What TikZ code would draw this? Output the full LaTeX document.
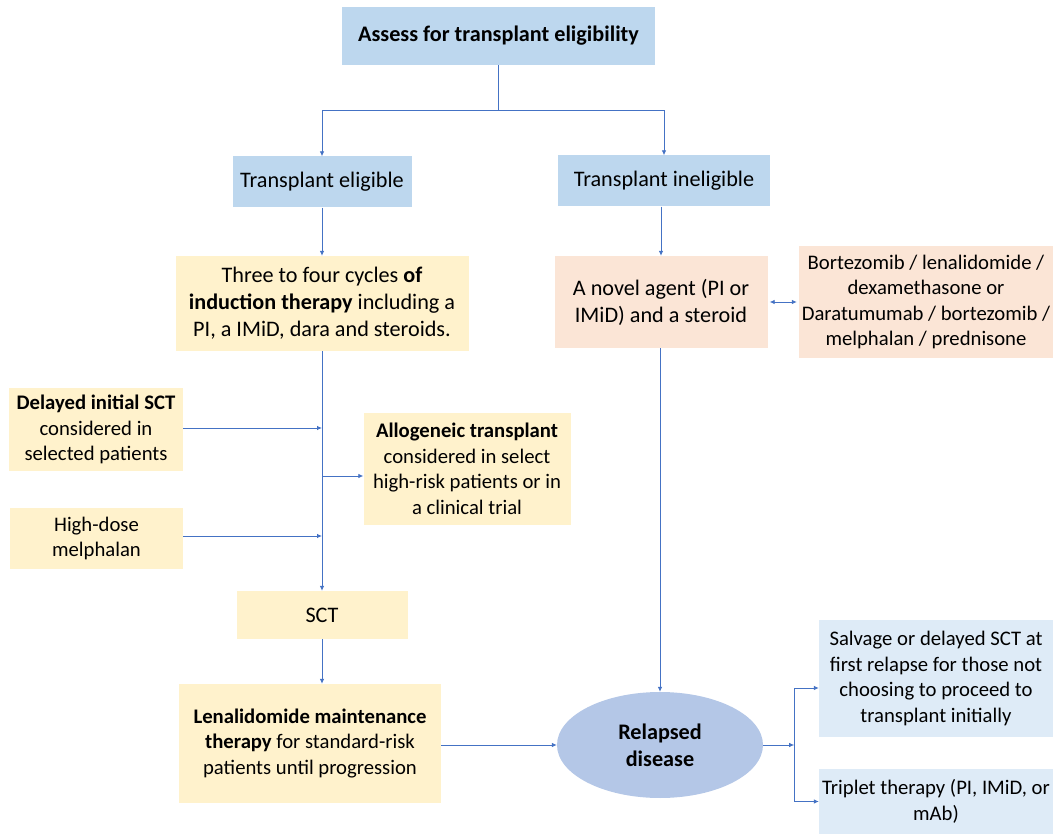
\documentclass[tikz,border=0pt]{standalone}
\usepackage{fontspec}
\setmainfont{Carlito}
\usetikzlibrary{arrows.meta,shapes.geometric}
\definecolor{headblue}{HTML}{BDD7EE}
\definecolor{stepyellow}{HTML}{FFF2CC}
\definecolor{agentpeach}{HTML}{FBE5D6}
\definecolor{relapseblue}{HTML}{B4C7E7}
\definecolor{salvageblue}{HTML}{DEEBF7}
\definecolor{linkblue}{HTML}{4472C4}
\tikzset{
  flowbox/.style={inner sep=0pt, align=center, font=\fontsize{22.2}{27}\selectfont},
  smalltext/.style={font=\fontsize{20.7}{25.5}\selectfont},
  size/.style args={#1x#2}{minimum width=#1pt, minimum height=#2pt},
  link/.style={draw=linkblue, line width=0.8pt, -{Latex[length=5pt,width=4.5pt]}},
  plainlink/.style={draw=linkblue, line width=0.8pt}
}
\begin{document}
\begin{tikzpicture}[x=1pt,y=-1pt]
    \useasboundingbox (0,0) rectangle (1053,834);
    % top decision
    \node[flowbox,fill=headblue,size=313x58] (assess) at (498.5,36) {\textbf{Assess for transplant eligibility}};
    \node[flowbox,fill=headblue,size=179x51] (elig) at (322,182) {Transplant eligible};
    \node[flowbox,fill=headblue,size=212x51] (inelig) at (664,181) {Transplant ineligible};
    % eligible branch
    \node[flowbox,fill=stepyellow,size=293x95] (induct) at (322,303.5) {Three to four cycles \textbf{of}\\\textbf{induction therapy} including a\\PI, a IMiD, dara and steroids.};
    \node[flowbox,smalltext,fill=stepyellow,size=174x83] (delayed) at (96,429.5) {\textbf{Delayed initial SCT}\\considered in\\selected patients};
    \node[flowbox,smalltext,fill=stepyellow,size=207x112] (allo) at (467,469) {\textbf{Allogeneic transplant}\\considered in select\\high-risk patients or in\\a clinical trial};
    \node[flowbox,smalltext,fill=stepyellow,size=173x61] (hdm) at (96.5,538.5) {High-dose\\melphalan};
    \node[flowbox,fill=stepyellow,size=171x48] (sct) at (322,615) {SCT};
    \node[flowbox,smalltext,fill=stepyellow,size=262x119] (lenal) at (310,743.5) {\textbf{Lenalidomide maintenance}\\\textbf{therapy} for standard-risk\\patients until progression};
    % ineligible branch
    \node[flowbox,fill=agentpeach,size=213x92] (novel) at (661,302) {A novel agent (PI or\\IMiD) and a steroid};
    \node[flowbox,smalltext,fill=agentpeach,size=254x112] (combo) at (926,302) {Bortezomib / lenalidomide /\\dexamethasone or\\Daratumumab / bortezomib /\\melphalan / prednisone};
    % relapse
    \node[flowbox,ellipse,fill=relapseblue,size=206x106] (relapse) at (660,745) {\textbf{Relapsed}\\\textbf{disease}};
    \node[flowbox,smalltext,fill=salvageblue,size=234x117] (salvage) at (936,678.5) {Salvage or delayed SCT at\\first relapse for those not\\choosing to proceed to\\transplant initially};
    \node[flowbox,smalltext,fill=salvageblue,size=234x65] (triplet) at (936,801.5) {Triplet therapy (PI, IMiD, or\\mAb)};
    % connectors
    \draw[plainlink] (assess.south) -- ++(0,45) coordinate (fork);
    \draw[link] (fork) -| (elig.north);
    \draw[link] (fork) -| (inelig.north);
    \draw[link] (elig) -- (induct);
    \draw[link] (inelig.south -| novel.north) -- (novel.north);
    \draw[link] (induct) -- (sct);
    \draw[link] (delayed.east |- 0,428) -- (induct.south |- 0,428);
    \draw[link] (hdm.east |- 0,536) -- (induct.south |- 0,536);
    \coordinate (trunk) at (322,476);
    \draw[link] (trunk) -- (trunk -| allo.west);
    \draw[link] (sct) -- (lenal.north -| sct.south);
    \draw[link] (lenal.east |- relapse.west) -- (relapse.west);
    \draw[link] (novel.south -| relapse.north) -- (relapse.north);
    \draw[draw=linkblue, line width=0.8pt, {Latex[length=5pt,width=4.5pt]}-{Latex[length=5pt,width=4.5pt]}] ([xshift=2pt]novel.east) -- ([xshift=-2pt]combo.west);
    \draw[link] (relapse.east) -- ++(31,0) coordinate (rfork);
    \draw[link] (rfork) |- (salvage.west |- 0,688);
    \draw[link] (rfork) |- (triplet.west);
\end{tikzpicture}
\end{document}
